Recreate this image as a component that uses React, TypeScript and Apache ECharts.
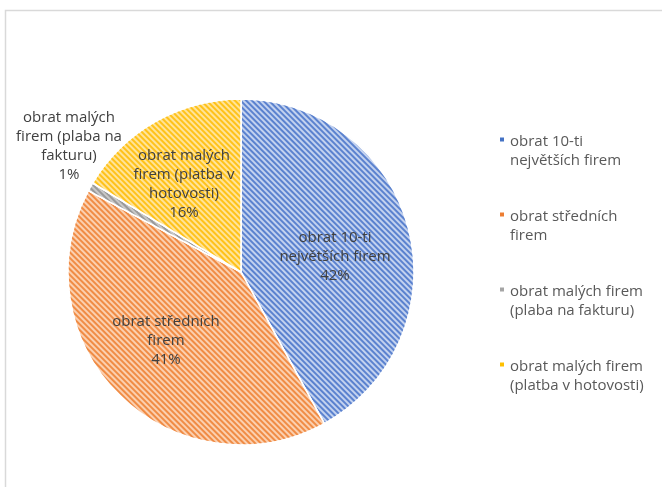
import React, { useEffect, useRef } from "react";
import * as echarts from "echarts";

const categories = [
  "obrat 10-ti největších firem",
  "obrat středních firem",
  "obrat malých firem (plaba na fakturu)",
  "obrat malých firem (platba v hotovosti)",
];
const values = [42.0, 40.8, 0.8, 16.4];
const legendLines: Record<string, string> = {
  "obrat 10-ti největších firem": "obrat 10-ti\nnejvětších firem",
  "obrat středních firem": "obrat středních\nfirem",
  "obrat malých firem (plaba na fakturu)": "obrat malých firem\n(plaba na fakturu)",
  "obrat malých firem (platba v hotovosti)": "obrat malých firem\n(platba v hotovosti)",
};
const labelLines = [
  "obrat 10-ti\nnejvětších firem",
  "obrat středních\nfirem",
  "obrat malých\nfirem (plaba na\nfakturu)",
  "obrat malých\nfirem (platba v\nhotovosti)",
];
const baseColors = ["#c3d2ef", "#fbd0b0", "#c8c8c8", "#ffe49a"];
const stripeColors = ["#5b82cf", "#f08c45", "#9a9a9a", "#ffc21a"];
const legendColors = ["#4472c4", "#ed7d31", "#a5a5a5", "#ffc000"];

export default function App() {
  const ref = useRef<HTMLDivElement>(null);
  useEffect(() => {
    if (!ref.current) return;
    const chart = echarts.init(ref.current, undefined, { renderer: "svg" });
    const font = "'Open Sans', sans-serif";
    chart.setOption({
      animation: false,
      textStyle: { fontFamily: font },
      graphic: [
        {
          type: "rect",
          shape: { x: 5.5, y: 10.5, width: 700, height: 520 },
          style: { fill: "none", stroke: "#d9d9d9", lineWidth: 1.5 },
          silent: true,
        },
      ],
      legend: {
        orient: "vertical",
        left: 498,
        top: 111,
        padding: 0,
        itemGap: 18,
        itemWidth: 6,
        itemHeight: 6,
        icon: "rect",
        data: categories.map((c, i) => ({
          name: c,
          itemStyle: { color: legendColors[i], decal: "none" },
        })),
        formatter: (n: string) => "{e| }\n" + (legendLines[n] || n),
        textStyle: {
          fontFamily: font,
          fontSize: 15,
          color: "#595959",
          lineHeight: 19,
          rich: { e: { fontSize: 15, lineHeight: 19 } },
        },
      },
      series: [
        {
          type: "pie",
          center: [241, 272],
          radius: 173,
          startAngle: 90,
          clockwise: true,
          avoidLabelOverlap: false,
          itemStyle: { borderColor: "#ffffff", borderWidth: 1.5 },
          label: {
            position: "inside",
            color: "#404040",
            fontFamily: font,
            fontSize: 15,
            lineHeight: 19,
            formatter: (p: any) =>
              labelLines[p.dataIndex] + "\n" + Math.round(p.percent) + "%",
          },
          labelLine: { show: false },
          labelLayout: (p: any) =>
            p.dataIndex === 2
              ? { x: 69, y: 144, align: "center", verticalAlign: "middle" }
              : p.dataIndex === 3
              ? { x: 184, y: 182, align: "center", verticalAlign: "middle" }
              : p.dataIndex === 1
              ? { x: 166, y: 339, align: "center", verticalAlign: "middle" }
              : { x: 335, y: 255, align: "center", verticalAlign: "middle" },
          data: categories.map((c, i) => ({
            name: c,
            value: values[i],
            itemStyle: {
              color: baseColors[i],
              decal: {
                symbol: "rect",
                color: stripeColors[i],
                dashArrayX: [1, 0],
                dashArrayY: [1.6, 1.6],
                rotation: Math.PI / 4,
              },
            },
            emphasis: { disabled: true },
          })),
        },
      ],
    });
    return () => chart.dispose();
  }, []);
  return (
    <div
      ref={ref}
      style={{ position: "fixed", left: 0, top: 0, width: 662, height: 487 }}
    />
  );
}
